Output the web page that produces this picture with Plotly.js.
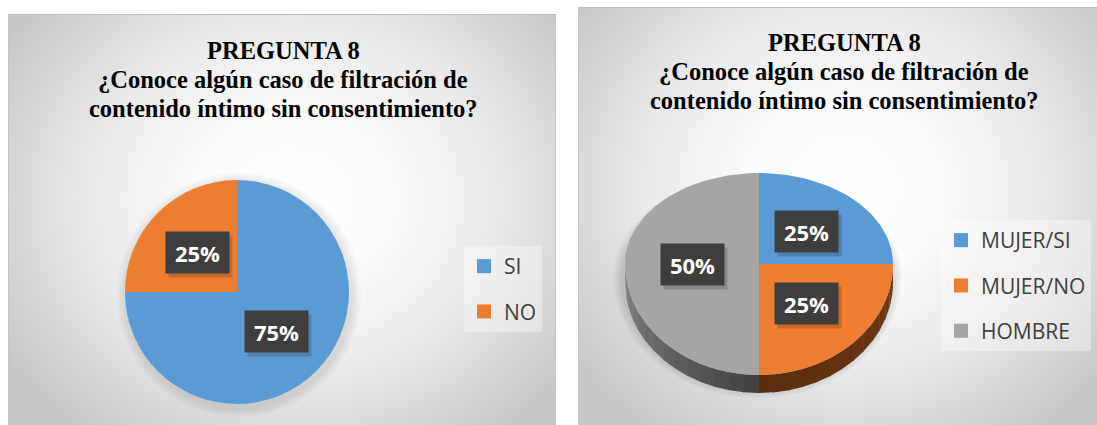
<!DOCTYPE html>
<html>
<head>
<meta charset="utf-8">
<script src="https://cdn.plot.ly/plotly-3.0.1.min.js"></script>
<style>
  html, body { margin:0; padding:0; background:#ffffff; }
  #wrap { position:relative; width:1097px; height:425px; overflow:hidden; }
  .panel { position:absolute; box-sizing:border-box; border-top:1px solid #bdbdbd; border-left:1px solid #c4c4c4; }
  #pl { left:8px; top:14px; width:548px; height:420px; border-right:1px solid #c4c4c4;
        background: radial-gradient(ellipse 62% 70% at 52% 44%, #ffffff 0%, #fbfbfb 30%, #e8e8e8 62%, #c8c8c8 100%); }
  #pr { left:578px; top:7px; width:530px; height:430px;
        background: radial-gradient(ellipse 62% 70% at 50% 42%, #ffffff 0%, #fbfbfb 30%, #e8e8e8 62%, #c8c8c8 100%); }
  #chart { position:absolute; left:0; top:0; width:1097px; height:425px; }
</style>
</head>
<body>
<div id="wrap">
  <div class="panel" id="pl"></div>
  <div class="panel" id="pr"></div>
  <div id="chart"></div>
</div>
<script>
// ---------------- data ----------------
const titleLines = ['PREGUNTA 8', '¿Conoce algún caso de filtración de', 'contenido íntimo sin consentimiento?'];

const leftLabels = ['SI', 'NO'];
const leftValues = [75, 25];
const leftColors = ['#5b9bd5', '#ed7d31'];

const rightLabels = ['MUJER/SI', 'MUJER/NO', 'HOMBRE'];
const rightValues = [25, 25, 50];
const rightColors = ['#5b9bd5', '#ed7d31', '#a5a5a5'];

// ---------------- geometry / style ----------------
const W = 1097, H = 425;
const LP = { cx: 237, cy: 292, r: 112 };                       // left flat pie
const RP = { cx: 759, cy: 264, rx: 134, ryUp: 91, ryDown: 111, depth: 18 }; // right 3-D pie
const sideShades = [
  null,
  { a: [0x72, 0x3b, 0x14], b: [0x58, 0x2c, 0x0f] },  // orange side (from 90deg -> 180deg)
  { a: [0x40, 0x40, 0x40], b: [0x86, 0x86, 0x86] }   // grey side (from 180deg -> 270deg)
];
const labelFont = { family: 'Open Sans, sans-serif', size: 22, color: '#ffffff' };
const legendFont = { family: 'Open Sans, sans-serif', size: 21, color: '#404040' };

function pct(vals) {
  const s = vals.reduce((a, b) => a + b, 0);
  return vals.map(v => Math.round(v / s * 100) + '%');
}
function angles(vals) {
  const s = vals.reduce((a, b) => a + b, 0);
  let acc = 0;
  return vals.map(v => { const a0 = acc / s * 360; acc += v; return [a0, acc / s * 360]; });
}
const rad = d => d * Math.PI / 180;
function ept(th, dy) {   // point on right ellipse, th = degrees clockwise from 12 o'clock
  const c = Math.cos(rad(th)), s = Math.sin(rad(th));
  const ry = c > 0 ? RP.ryUp : RP.ryDown;
  return [RP.cx + RP.rx * s, RP.cy - ry * c + (dy || 0)];
}
function rgb(a, b, t) {
  const c = a.map((v, i) => Math.round(v + (b[i] - v) * t));
  return 'rgb(' + c.join(',') + ')';
}

const traces = [];
const annotations = [];
const shapes = [];

// ---------- left pie ----------
traces.push({
  type: 'pie', labels: leftLabels, values: leftValues, sort: false,
  direction: 'clockwise', rotation: 0, textinfo: 'none', hoverinfo: 'label+percent',
  marker: { colors: leftColors, line: { width: 0 } }, showlegend: false,
  domain: { x: [(LP.cx - LP.r) / W, (LP.cx + LP.r) / W], y: [(H - LP.cy - LP.r) / H, (H - LP.cy + LP.r) / H] }
});
// soft shadow around left pie
for (let i = 0; i < 4; i++) {
  const g = 10 - i * 2.5;
  shapes.push({ type: 'circle', xref: 'x', yref: 'y', layer: 'below',
    x0: LP.cx - LP.r - g + 2, x1: LP.cx + LP.r + g + 2, y0: LP.cy - LP.r - g + 3, y1: LP.cy + LP.r + g + 3,
    fillcolor: 'rgba(0,0,0,0.025)', line: { width: 0 } });
}

// ---------- right 3-D pie (drawn from the values) ----------
const rAng = angles(rightValues);
// shadow under the 3-D pie
for (let i = 0; i < 4; i++) {
  const g = 10 - i * 2.5;
  const xs = [], ys = [];
  for (let th = 0; th <= 360; th += 3) {
    const c = Math.cos(rad(th)), s = Math.sin(rad(th));
    const ry = (c > 0 ? RP.ryUp : RP.ryDown) + g;
    xs.push(RP.cx + (RP.rx + g) * s - 2); ys.push(RP.cy - ry * c + RP.depth * 0.6 + 2);
  }
  traces.push({ type: 'scatter', mode: 'lines', x: xs, y: ys, fill: 'toself',
    fillcolor: 'rgba(0,0,0,0.035)', line: { width: 0 }, hoverinfo: 'skip', showlegend: false });
}
// side walls (front half only: 90deg .. 270deg)
rAng.forEach(([a0, a1], i) => {
  const s0 = Math.max(a0, 90), s1 = Math.min(a1, 270);
  if (s1 <= s0) return;
  const n = 14;
  for (let k = 0; k < n; k++) {
    const s = s0 + (s1 - s0) * k / n, e = Math.min(s1, s0 + (s1 - s0) * (k + 1) / n + 0.4);
    const xs = [], ys = [];
    for (let j = 0; j <= 6; j++) { const p = ept(s + (e - s) * j / 6); xs.push(p[0]); ys.push(p[1]); }
    for (let j = 6; j >= 0; j--) { const p = ept(s + (e - s) * j / 6, RP.depth); xs.push(p[0]); ys.push(p[1]); }
    const t = ((s + e) / 2 - s0) / (s1 - s0);
    const sh = sideShades[i] || { a: [0x40, 0x40, 0x40], b: [0x40, 0x40, 0x40] };
    traces.push({ type: 'scatter', mode: 'lines', x: xs, y: ys, fill: 'toself',
      fillcolor: rgb(sh.a, sh.b, t), line: { width: 0 }, hoverinfo: 'skip', showlegend: false });
  }
});
// top faces
rAng.forEach(([a0, a1], i) => {
  const xs = [RP.cx], ys = [RP.cy];
  const steps = Math.max(8, Math.ceil((a1 - a0) / 2));
  for (let j = 0; j <= steps; j++) { const p = ept(a0 + (a1 - a0) * j / steps); xs.push(p[0]); ys.push(p[1]); }
  xs.push(RP.cx); ys.push(RP.cy);
  traces.push({ type: 'scatter', mode: 'lines', x: xs, y: ys, fill: 'toself',
    fillcolor: rightColors[i], line: { width: 0 }, name: rightLabels[i],
    hoverinfo: 'name', showlegend: false });
});

// ---------- legend entries ----------
leftLabels.forEach((lab, i) => traces.push({ type: 'scatter', mode: 'markers', x: [null], y: [null],
  name: lab, legend: 'legend', legendgroup: 'l' + i,
  marker: { symbol: 'square', size: 14, color: leftColors[i] }, hoverinfo: 'skip' }));
rightLabels.forEach((lab, i) => traces.push({ type: 'scatter', mode: 'markers', x: [null], y: [null],
  name: lab, legend: 'legend2', legendgroup: 'r' + i,
  marker: { symbol: 'square', size: 14, color: rightColors[i] }, hoverinfo: 'skip' }));

// ---------- data labels ----------
function labelBox(x, y, text) {
  annotations.push({ xref: 'x', yref: 'y', x: x + 3, y: y + 4, text: ' ', showarrow: false,
    width: 61, height: 39, bgcolor: 'rgba(0,0,0,0.16)', borderpad: 1, font: labelFont });
  annotations.push({ xref: 'x', yref: 'y', x: x, y: y, text: '<b>' + text + '</b>', showarrow: false,
    width: 61, height: 39, bgcolor: '#3e3e3e', borderpad: 1, font: labelFont, valign: 'middle' });
}
const lAng = angles(leftValues), lPct = pct(leftValues);
lAng.forEach(([a0, a1], i) => {
  const m = rad((a0 + a1) / 2);
  labelBox(LP.cx + 0.5 * LP.r * Math.sin(m), LP.cy - 0.5 * LP.r * Math.cos(m), lPct[i]);
});
const rPct = pct(rightValues);
rAng.forEach(([a0, a1], i) => {
  const m = (a0 + a1) / 2;
  const c = Math.cos(rad(m)), s = Math.sin(rad(m));
  const ry = c > 0 ? RP.ryUp : RP.ryDown;
  labelBox(RP.cx + 0.5 * RP.rx * s, RP.cy - 0.5 * ry * c, rPct[i]);
});

// ---------- titles (one annotation per line for exact line spacing) ----------
const titleFont = { family: 'Liberation Serif, Times New Roman, serif', size: 24.5, color: '#000000' };
const titleSpots = [{ x: 283, y: 50 }, { x: 844, y: 42 }];
const lineGap = 29;
titleSpots.forEach(sp => titleLines.forEach((t, i) => annotations.push({
  xref: 'x', yref: 'y', x: sp.x, y: sp.y + i * lineGap, xanchor: 'center', yanchor: 'middle',
  text: '<b>' + t + '</b>', showarrow: false, font: titleFont })));

const layout = {
  width: W, height: H, autosize: false,
  margin: { l: 0, r: 0, t: 0, b: 0, pad: 0 },
  paper_bgcolor: 'rgba(0,0,0,0)', plot_bgcolor: 'rgba(0,0,0,0)',
  xaxis: { domain: [0, 1], range: [0, W], visible: false, fixedrange: true },
  yaxis: { domain: [0, 1], range: [H, 0], visible: false, fixedrange: true },
  showlegend: true,
  legend: { x: 464 / W, xanchor: 'left', y: 1 - 246 / H, yanchor: 'top',
    bgcolor: 'rgba(255,255,255,0.35)', borderwidth: 0, font: legendFont,
    traceorder: 'grouped', tracegroupgap: 15, itemsizing: 'trace', itemclick: false, itemdoubleclick: false },
  legend2: { x: 941 / W, xanchor: 'left', y: 1 - 220 / H, yanchor: 'top',
    bgcolor: 'rgba(255,255,255,0.35)', borderwidth: 0, font: legendFont,
    traceorder: 'grouped', tracegroupgap: 15, itemsizing: 'trace', itemclick: false, itemdoubleclick: false },
  annotations: annotations,
  shapes: shapes,
  hovermode: 'closest'
};

Plotly.newPlot('chart', traces, layout, { displayModeBar: false, staticPlot: false });
</script>
</body>
</html>
